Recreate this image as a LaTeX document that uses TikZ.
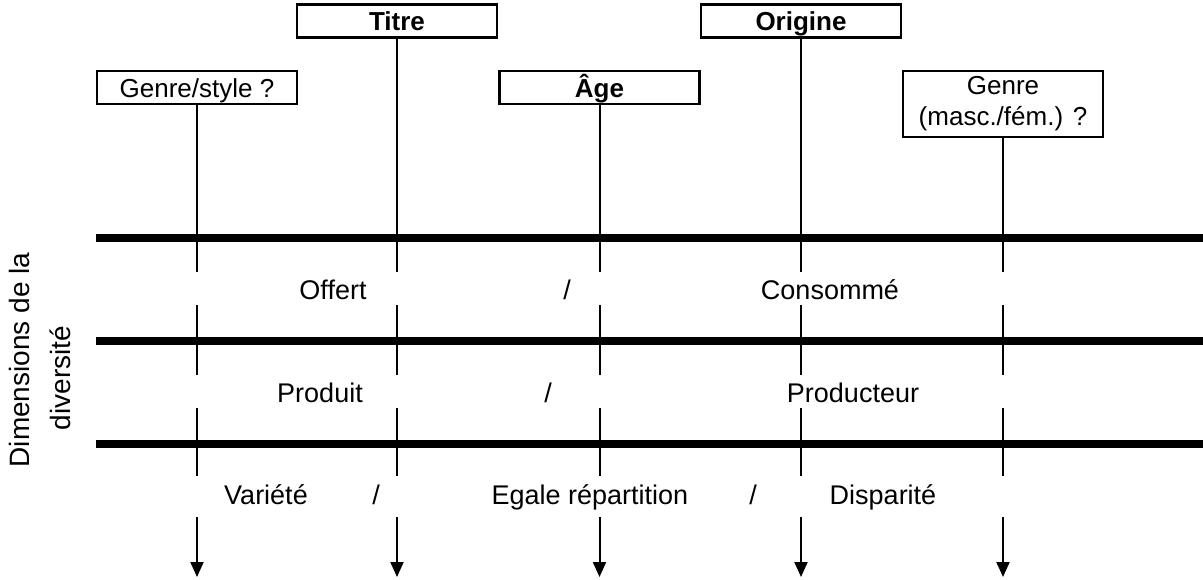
\documentclass[tikz,border=0pt]{standalone}
\usepackage{fontspec}
\setmainfont{Liberation Sans}
\usetikzlibrary{arrows.meta}
\begin{document}
\begin{tikzpicture}[x=1pt,y=-1pt,
  topbox/.style={draw,line width=2.6pt,minimum width=200pt,minimum height=33pt,inner sep=0pt,font=\fontsize{26}{31}\selectfont,align=center},
  onel/.style={text height=19pt,text depth=0pt},
  axis/.style={line width=2pt,-{Triangle[length=15pt,width=13pt]}},
  band/.style={fill=white,draw=none,minimum width=1100pt,inner sep=0pt},
  lbl/.style={anchor=base,inner sep=0pt,font=\fontsize{27}{32}\selectfont},
  side/.style={rotate=90,inner sep=0pt,font=\fontsize{28}{34}\selectfont},
  sep/.style={line width=7.5pt}]
\useasboundingbox (0,0) rectangle (1203,579);
\coordinate (bot) at (0,577);
% boxes
\node[topbox,onel] (gs) at (197,87.5) {Genre/style ?};
\node[topbox,onel,font=\fontsize{26}{31}\selectfont\bfseries] (ti) at (397,21) {Titre};
\node[topbox,onel,font=\fontsize{26}{31}\selectfont\bfseries] (ag) at (599.5,87.5) {Âge};
\node[topbox,onel,font=\fontsize{26}{31}\selectfont\bfseries] (or) at (801,21) {Origine};
\node[topbox,minimum height=66pt] (gm) at (1003,104) {Genre\\(masc./fém.) ?};
% arrows
\draw[axis] (gs.south) -- (gs.south |- bot);
\draw[axis] (ti.south) -- (ti.south |- bot);
\draw[axis] (ag.south) -- (ag.south |- bot);
\draw[axis] (or.south) -- (or.south |- bot);
\draw[axis] (gm.south) -- (gm.south |- bot);
% bands
\node[band,minimum height=33pt] (b1) at (650,288.5) {};
\node[band,minimum height=33pt] (b2) at (650,391.5) {};
\node[band,minimum height=41pt] (b3) at (650,496.5) {};
% thick lines
\draw[sep] (96,238) -- (1203,238);
\draw[sep] (96,341) -- (1203,341);
\draw[sep] (96,444) -- (1203,444);
% labels
\node[lbl] (t11) at (333,299) {Offert};
\node[lbl] (t12) at (567,299) {/};
\node[lbl] (t13) at (830,299) {Consommé};
\node[lbl] (t21) at (320,402) {Produit};
\node[lbl] (t22) at (548,402) {/};
\node[lbl] (t23) at (853,402) {Producteur};
\node[lbl] (t31) at (266,504) {Variété};
\node[lbl] (t32) at (376,504) {/};
\node[lbl] (t33) at (590,504) {Egale répartition};
\node[lbl] (t34) at (753,504) {/};
\node[lbl] (t35) at (883,504) {Disparité};
\node[side] (dim1) at (19,360) {Dimensions de la};
\node[side] (dim2) at (60,378) {diversité};
\end{tikzpicture}
\end{document}
